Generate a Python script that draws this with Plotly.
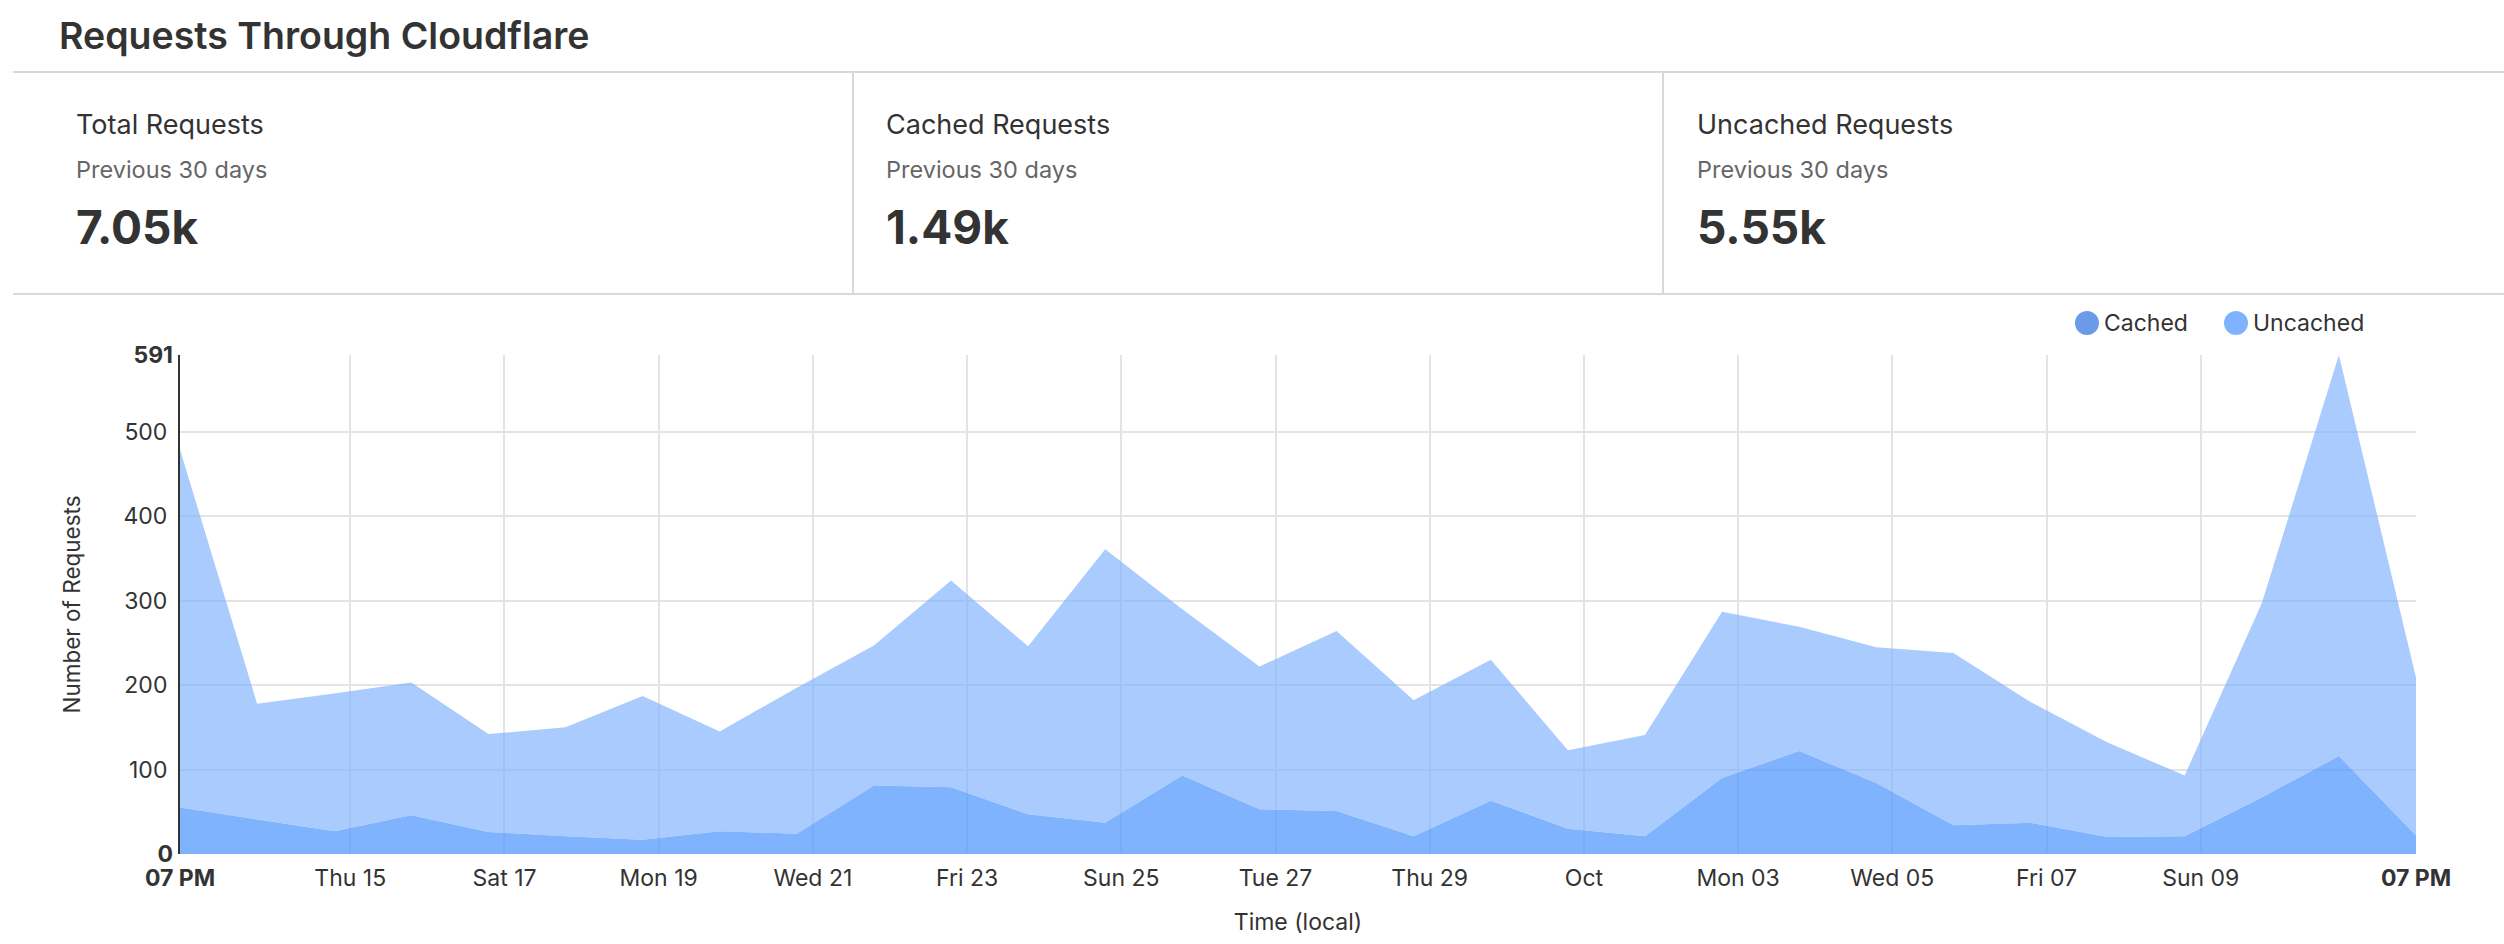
import plotly.graph_objects as go

# ---------------- data ----------------
times = [
    "2022-09-12 19:00", "2022-09-13 19:00", "2022-09-14 19:00", "2022-09-15 19:00",
    "2022-09-16 19:00", "2022-09-17 19:00", "2022-09-18 19:00", "2022-09-19 19:00",
    "2022-09-20 19:00", "2022-09-21 19:00", "2022-09-22 19:00", "2022-09-23 19:00",
    "2022-09-24 19:00", "2022-09-25 19:00", "2022-09-26 19:00", "2022-09-27 19:00",
    "2022-09-28 19:00", "2022-09-29 19:00", "2022-09-30 19:00", "2022-10-01 19:00",
    "2022-10-02 19:00", "2022-10-03 19:00", "2022-10-04 19:00", "2022-10-05 19:00",
    "2022-10-06 19:00", "2022-10-07 19:00", "2022-10-08 19:00", "2022-10-09 19:00",
    "2022-10-10 19:00", "2022-10-11 19:00",
]
cached = [55, 41, 27, 46, 26, 21, 17, 27, 24, 81, 79, 47, 37, 93, 53,
          51, 21, 63, 30, 21, 90, 122, 84, 34, 37, 20, 21, 67, 116, 22]
uncached = [424, 137, 163, 157, 116, 129, 170, 118, 173, 166, 245, 199, 324, 197, 169,
            213, 161, 167, 93, 120, 197, 147, 161, 204, 143, 112, 72, 230, 475, 187]

x_tick_vals = ["2022-09-15", "2022-09-17", "2022-09-19", "2022-09-21", "2022-09-23",
               "2022-09-25", "2022-09-27", "2022-09-29", "2022-10-01", "2022-10-03",
               "2022-10-05", "2022-10-07", "2022-10-09"]
x_tick_text = ["Thu 15", "Sat 17", "Mon 19", "Wed 21", "Fri 23", "Sun 25", "Tue 27",
               "Thu 29", "Oct", "Mon 03", "Wed 05", "Fri 07", "Sun 09"]
edge_tick_text = ["<b>07 PM</b>", "<b>07 PM</b>"]
y_grid_vals = [100, 200, 300, 400, 500]
y_max = 591

series_names = ["Cached", "Uncached"]
series_colors = ["#6b9be8", "#80b3ff"]

summary_titles = ["Total Requests", "Cached Requests", "Uncached Requests"]
summary_sub = "Previous 30 days"
summary_values = ["7.05k", "1.49k", "5.55k"]

# ---------------- layout geometry (pixels) ----------------
W, H = 2504, 944
L, R, T, B = 180, 2416, 355, 854
PW, PH = R - L, B - T


def px(xp):
    return (xp - L) / PW


def py(yp):
    return (B - yp) / PH


FONT = "Inter, Roboto, 'Noto Sans', sans-serif"
TXT = "#333333"

fig = go.Figure()

fig.add_trace(go.Scatter(
    x=times, y=cached, name=series_names[0], stackgroup="one", mode="lines",
    line=dict(width=0, color="rgba(85,153,252,0.75)"),
    fillcolor="rgba(85,153,252,0.75)", showlegend=False,
))
fig.add_trace(go.Scatter(
    x=times, y=uncached, name=series_names[1], stackgroup="one", mode="lines",
    line=dict(width=0, color="rgba(128,179,253,0.68)"),
    fillcolor="rgba(128,179,253,0.68)", showlegend=False,
))
# carrier for the overlay axes (edge labels)
fig.add_trace(go.Scatter(x=[times[0]], y=[0], xaxis="x2", yaxis="y2", mode="markers",
                         marker=dict(opacity=0), showlegend=False, hoverinfo="skip"))

fig.update_layout(
    width=W, height=H,
    margin=dict(l=L, r=W - R, t=T, b=H - B, pad=0),
    paper_bgcolor="white", plot_bgcolor="white",
    font=dict(family=FONT, color=TXT, size=22),
    showlegend=False,
    xaxis=dict(
        type="date", range=[times[0], times[-1]],
        tickmode="array", tickvals=x_tick_vals, ticktext=x_tick_text,
        showgrid=True, gridcolor="#e4e4e4", gridwidth=2,
        showline=False, zeroline=False, ticks="", ticklabelstandoff=8,
        tickfont=dict(size=23, color=TXT),
        title=dict(text="Time (local)", font=dict(size=23, color=TXT), standoff=22),
    ),
    xaxis2=dict(
        type="date", range=[times[0], times[-1]], overlaying="x", anchor="y", side="bottom",
        tickmode="array", tickvals=[times[0], times[-1]], ticktext=edge_tick_text,
        showgrid=False, showline=False, zeroline=False, ticks="", ticklabelstandoff=8,
        tickfont=dict(size=23, color=TXT),
    ),
    yaxis=dict(
        range=[0, y_max], tickmode="array", tickvals=y_grid_vals,
        ticktext=[str(v) for v in y_grid_vals],
        showgrid=True, gridcolor="#e4e4e4", gridwidth=2,
        showline=True, linecolor="#333333", linewidth=2,
        zeroline=False, ticks="", ticklabelstandoff=6,
        tickfont=dict(size=23, color=TXT),
        title=dict(text="Number of Requests", font=dict(size=22.5, color=TXT), standoff=37),
    ),
    yaxis2=dict(
        range=[0, y_max], overlaying="y", anchor="x", side="left",
        tickmode="array", tickvals=[0, y_max], ticktext=["<b>0</b>", "<b>%d</b>" % y_max],
        showgrid=False, showline=False, zeroline=False, ticks="", ticklabelstandoff=6,
        tickfont=dict(size=23, color=TXT),
    ),
    hovermode="x unified",
)

# ---------------- header panel & legend ----------------
line_col = "#d9d9d9"
shapes = [
    dict(type="line", xref="paper", yref="paper", x0=px(13), x1=px(W), y0=py(72), y1=py(72),
         line=dict(color=line_col, width=2)),
    dict(type="line", xref="paper", yref="paper", x0=px(13), x1=px(W), y0=py(294), y1=py(294),
         line=dict(color=line_col, width=2)),
    dict(type="line", xref="paper", yref="paper", x0=px(853), x1=px(853), y0=py(72), y1=py(294),
         line=dict(color=line_col, width=2)),
    dict(type="line", xref="paper", yref="paper", x0=px(1663), x1=px(1663), y0=py(72), y1=py(294),
         line=dict(color=line_col, width=2)),
]
legend_centers = [2087, 2236]
for cxp, col in zip(legend_centers, series_colors):
    shapes.append(dict(type="circle", xref="paper", yref="paper",
                       xsizemode="pixel", ysizemode="pixel",
                       xanchor=px(cxp), yanchor=py(323), x0=-12, x1=12, y0=-12, y1=12,
                       fillcolor=col, line=dict(width=0)))
fig.update_layout(shapes=shapes)

ann = [dict(text="Requests Through Cloudflare", x=px(57), y=py(35), xref="paper", yref="paper",
            xanchor="left", yanchor="middle", showarrow=False,
            font=dict(size=37.5, color=TXT, family=FONT, weight=600))]
col_x = [74, 884, 1695]
for cx, t, v in zip(col_x, summary_titles, summary_values):
    ann.append(dict(text=t, x=px(cx), y=py(124), xref="paper", yref="paper", xanchor="left",
                    yanchor="middle", showarrow=False, font=dict(size=27, color=TXT, family=FONT)))
    ann.append(dict(text=summary_sub, x=px(cx), y=py(169), xref="paper", yref="paper", xanchor="left",
                    yanchor="middle", showarrow=False, font=dict(size=23.5, color="#666666", family=FONT)))
    ann.append(dict(text="<b>%s</b>" % v, x=px(cx), y=py(227), xref="paper", yref="paper",
                    xanchor="left", yanchor="middle", showarrow=False,
                    font=dict(size=46, color=TXT, family=FONT)))
for cxp, name in zip(legend_centers, series_names):
    ann.append(dict(text=name, x=px(cxp + 15), y=py(323), xref="paper", yref="paper",
                    xanchor="left", yanchor="middle", showarrow=False,
                    font=dict(size=23, color=TXT, family=FONT)))
fig.update_layout(annotations=ann)

fig.write_html("out.html")
